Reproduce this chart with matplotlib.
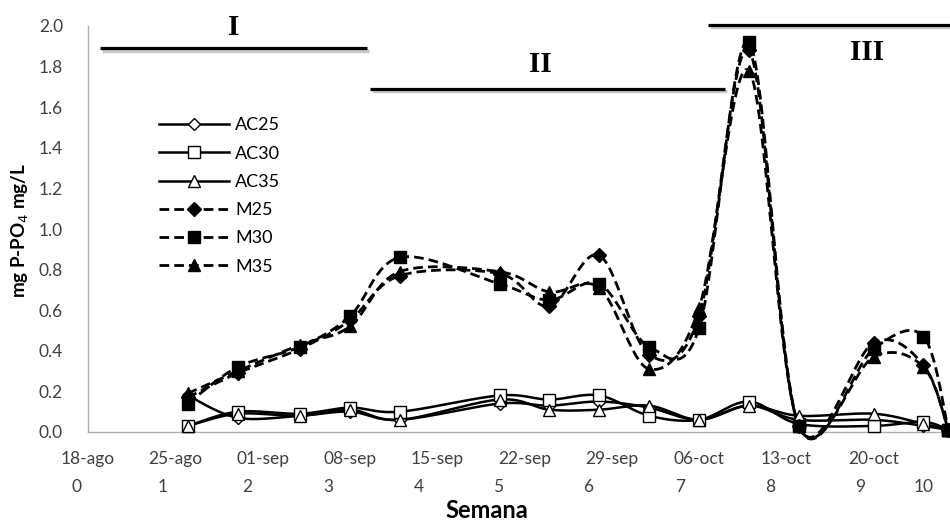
import numpy as np
import matplotlib
matplotlib.use("Agg")
import matplotlib.pyplot as plt
from matplotlib.lines import Line2D
import matplotlib.transforms as mtransforms

plt.rcParams['font.family'] = ['Lato', 'DejaVu Sans']

# ---------------- data ----------------
date_ticks = [0, 7, 14, 21, 28, 35, 42, 49, 56, 63]  # days from 18-ago
date_labels = ['18-ago', '25-ago', '01-sep', '08-sep', '15-sep', '22-sep',
               '29-sep', '06-oct', '13-oct', '20-oct']
week_labels = ['0', '1', '2', '3', '4', '5', '6', '7', '8', '9', '10']
week_label_pos = [-0.9, 5.95, 12.8, 19.3, 26.5, 32.9, 40.1, 47.5, 54.7, 61.9, 67.0]

sample_day = [8, 12, 17, 21, 25, 33, 37, 41, 45, 49, 53, 57, 63, 67, 69]

AC25 = [0.18, 0.07, 0.08, 0.10, 0.06, 0.14, 0.13, 0.15, 0.12, 0.06, 0.13, 0.06, 0.06, 0.03, 0.01]
AC30 = [0.03, 0.10, 0.09, 0.12, 0.10, 0.18, 0.16, 0.18, 0.08, 0.06, 0.15, 0.04, 0.03, 0.05, 0.01]
AC35 = [0.03, 0.09, 0.08, 0.11, 0.06, 0.16, 0.11, 0.11, 0.13, 0.06, 0.13, 0.08, 0.09, 0.04, 0.01]
M25 = [0.17, 0.29, 0.41, 0.55, 0.77, 0.78, 0.62, 0.87, 0.38, 0.57, 1.88, 0.03, 0.44, 0.33, 0.01]
M30 = [0.14, 0.32, 0.42, 0.57, 0.86, 0.73, 0.65, 0.73, 0.42, 0.51, 1.92, 0.03, 0.41, 0.47, 0.01]
M35 = [0.19, 0.30, 0.43, 0.52, 0.79, 0.79, 0.69, 0.71, 0.31, 0.61, 1.78, 0.03, 0.37, 0.32, 0.01]

series = [
    ('AC25', AC25, '-', 'D', 'white', 6.5),
    ('AC30', AC30, '-', 's', 'white', 8.5),
    ('AC35', AC35, '-', '^', 'white', 8.5),
    ('M25', M25, '--', 'D', 'black', 7),
    ('M30', M30, '--', 's', 'black', 8),
    ('M35', M35, '--', '^', 'black', 8.5),
]

phase_names = ['I', 'II', 'III']

# ---------------- figure ----------------
W, H = 950, 525
fig = plt.figure(figsize=(W / 100, H / 100), dpi=100)
ax = fig.add_axes([88 / W, 1 - 432 / H, 1 - 88 / W, (432 - 26) / H])
xmin, xmax = 0, (W - 88) / 12.47
ax.set_xlim(xmin, xmax)
ax.set_ylim(0, 2.0)

# pixel scale factors for smoothing in display-like space
sx = 12.47
sy = 203.0


def smooth_curve(x, y, n=30):
    P = np.column_stack([np.asarray(x, float) * sx, np.asarray(y, float) * sy])
    out = []
    m = len(P)
    for i in range(m - 1):
        p0 = P[i - 1] if i > 0 else P[i]
        p1 = P[i]
        p2 = P[i + 1]
        p3 = P[i + 2] if i + 2 < m else P[i + 1]
        c1 = p1 + (p2 - p0) / 6.0
        c2 = p2 - (p3 - p1) / 6.0
        t = np.linspace(0, 1, n)[:, None]
        b = ((1 - t) ** 3) * p1 + 3 * ((1 - t) ** 2) * t * c1 + 3 * (1 - t) * t ** 2 * c2 + t ** 3 * p2
        if i > 0:
            b = b[1:]
        out.append(b)
    out = np.vstack(out)
    return out[:, 0] / sx, out[:, 1] / sy


DASH = (0, (3.5, 1.8))
handles = []
for name, vals, ls, mk, mfc, ms in series:
    cx, cy = smooth_curve(sample_day, vals)
    if ls == '--':
        ax.plot(cx, cy, color='black', lw=2.0, ls=DASH, clip_on=False, zorder=3)
    else:
        ax.plot(cx, cy, color='black', lw=1.8, ls='-', clip_on=False, zorder=3)
    ax.plot(sample_day, vals, ls='none', marker=mk, ms=ms, mfc=mfc, mec='black',
            mew=1.0, clip_on=False, zorder=4)
    handles.append(Line2D([], [], color='black', lw=1.8 if ls == '-' else 2.0,
                          ls='-' if ls == '-' else DASH,
                          marker=mk, ms=ms, mfc=mfc, mec='black', mew=1.0, label=name))

leg = ax.legend(handles=handles, loc='upper left', bbox_to_anchor=(0.082, 0.775),
                frameon=False, fontsize=13, handlelength=3.9, handletextpad=0.35,
                labelspacing=0.68, borderaxespad=0, borderpad=0)

# axes styling
for s in ['top', 'right']:
    ax.spines[s].set_visible(False)
for s in ['left', 'bottom']:
    ax.spines[s].set_color('#b0b0b0')
    ax.spines[s].set_linewidth(1.0)
ax.set_yticks(np.arange(0, 2.01, 0.2))
ax.set_yticklabels([f'{v:.1f}' for v in np.arange(0, 2.01, 0.2)])
ax.set_xticks(date_ticks)
ax.set_xticklabels(date_labels)
ax.tick_params(axis='both', length=0, labelsize=12.5, colors='#404040')
ax.tick_params(axis='y', pad=18)
ax.tick_params(axis='x', pad=14)

trans = mtransforms.blended_transform_factory(ax.transData, fig.transFigure)
for lab, pos in zip(week_labels, week_label_pos):
    fig.text(pos, 1 - 487 / H, lab, transform=trans, ha='center', va='center',
             fontsize=12.5, color='#404040')

fig.text(487 / W, 1 - 510 / H, 'Semana', ha='center', va='center', fontsize=17,
         fontweight='bold', color='black')
fig.text(20 / W, 1 - 231 / H, 'mg P-PO$_4$ mg/L', rotation=90, ha='center', va='center',
         fontsize=13.5, fontweight='bold', color='black')

# phase bars
phase_bars = [(1.0, 22.4, 1.89), (22.6, 51.1, 1.69), (49.7, xmax + 1, 2.005)]
phase_text = [(11.7, 1.995), (36.3, 1.81), (62.5, 1.87)]
for (x0, x1, yv), name, (tx, ty) in zip(phase_bars, phase_names, phase_text):
    ax.plot([x0 + 0.15, x1 + 0.15], [yv - 0.012, yv - 0.012], color='#c8c8c8', lw=2.5,
            solid_capstyle='butt', clip_on=False, zorder=1)
    ax.plot([x0, x1], [yv, yv], color='black', lw=2.3, solid_capstyle='butt',
            clip_on=False, zorder=2)
    ax.text(tx, ty, name, ha='center', va='center', fontsize=21, fontweight='bold',
            family=['Liberation Serif', 'DejaVu Serif'], clip_on=False)

fig.savefig('out.png', dpi=100)
